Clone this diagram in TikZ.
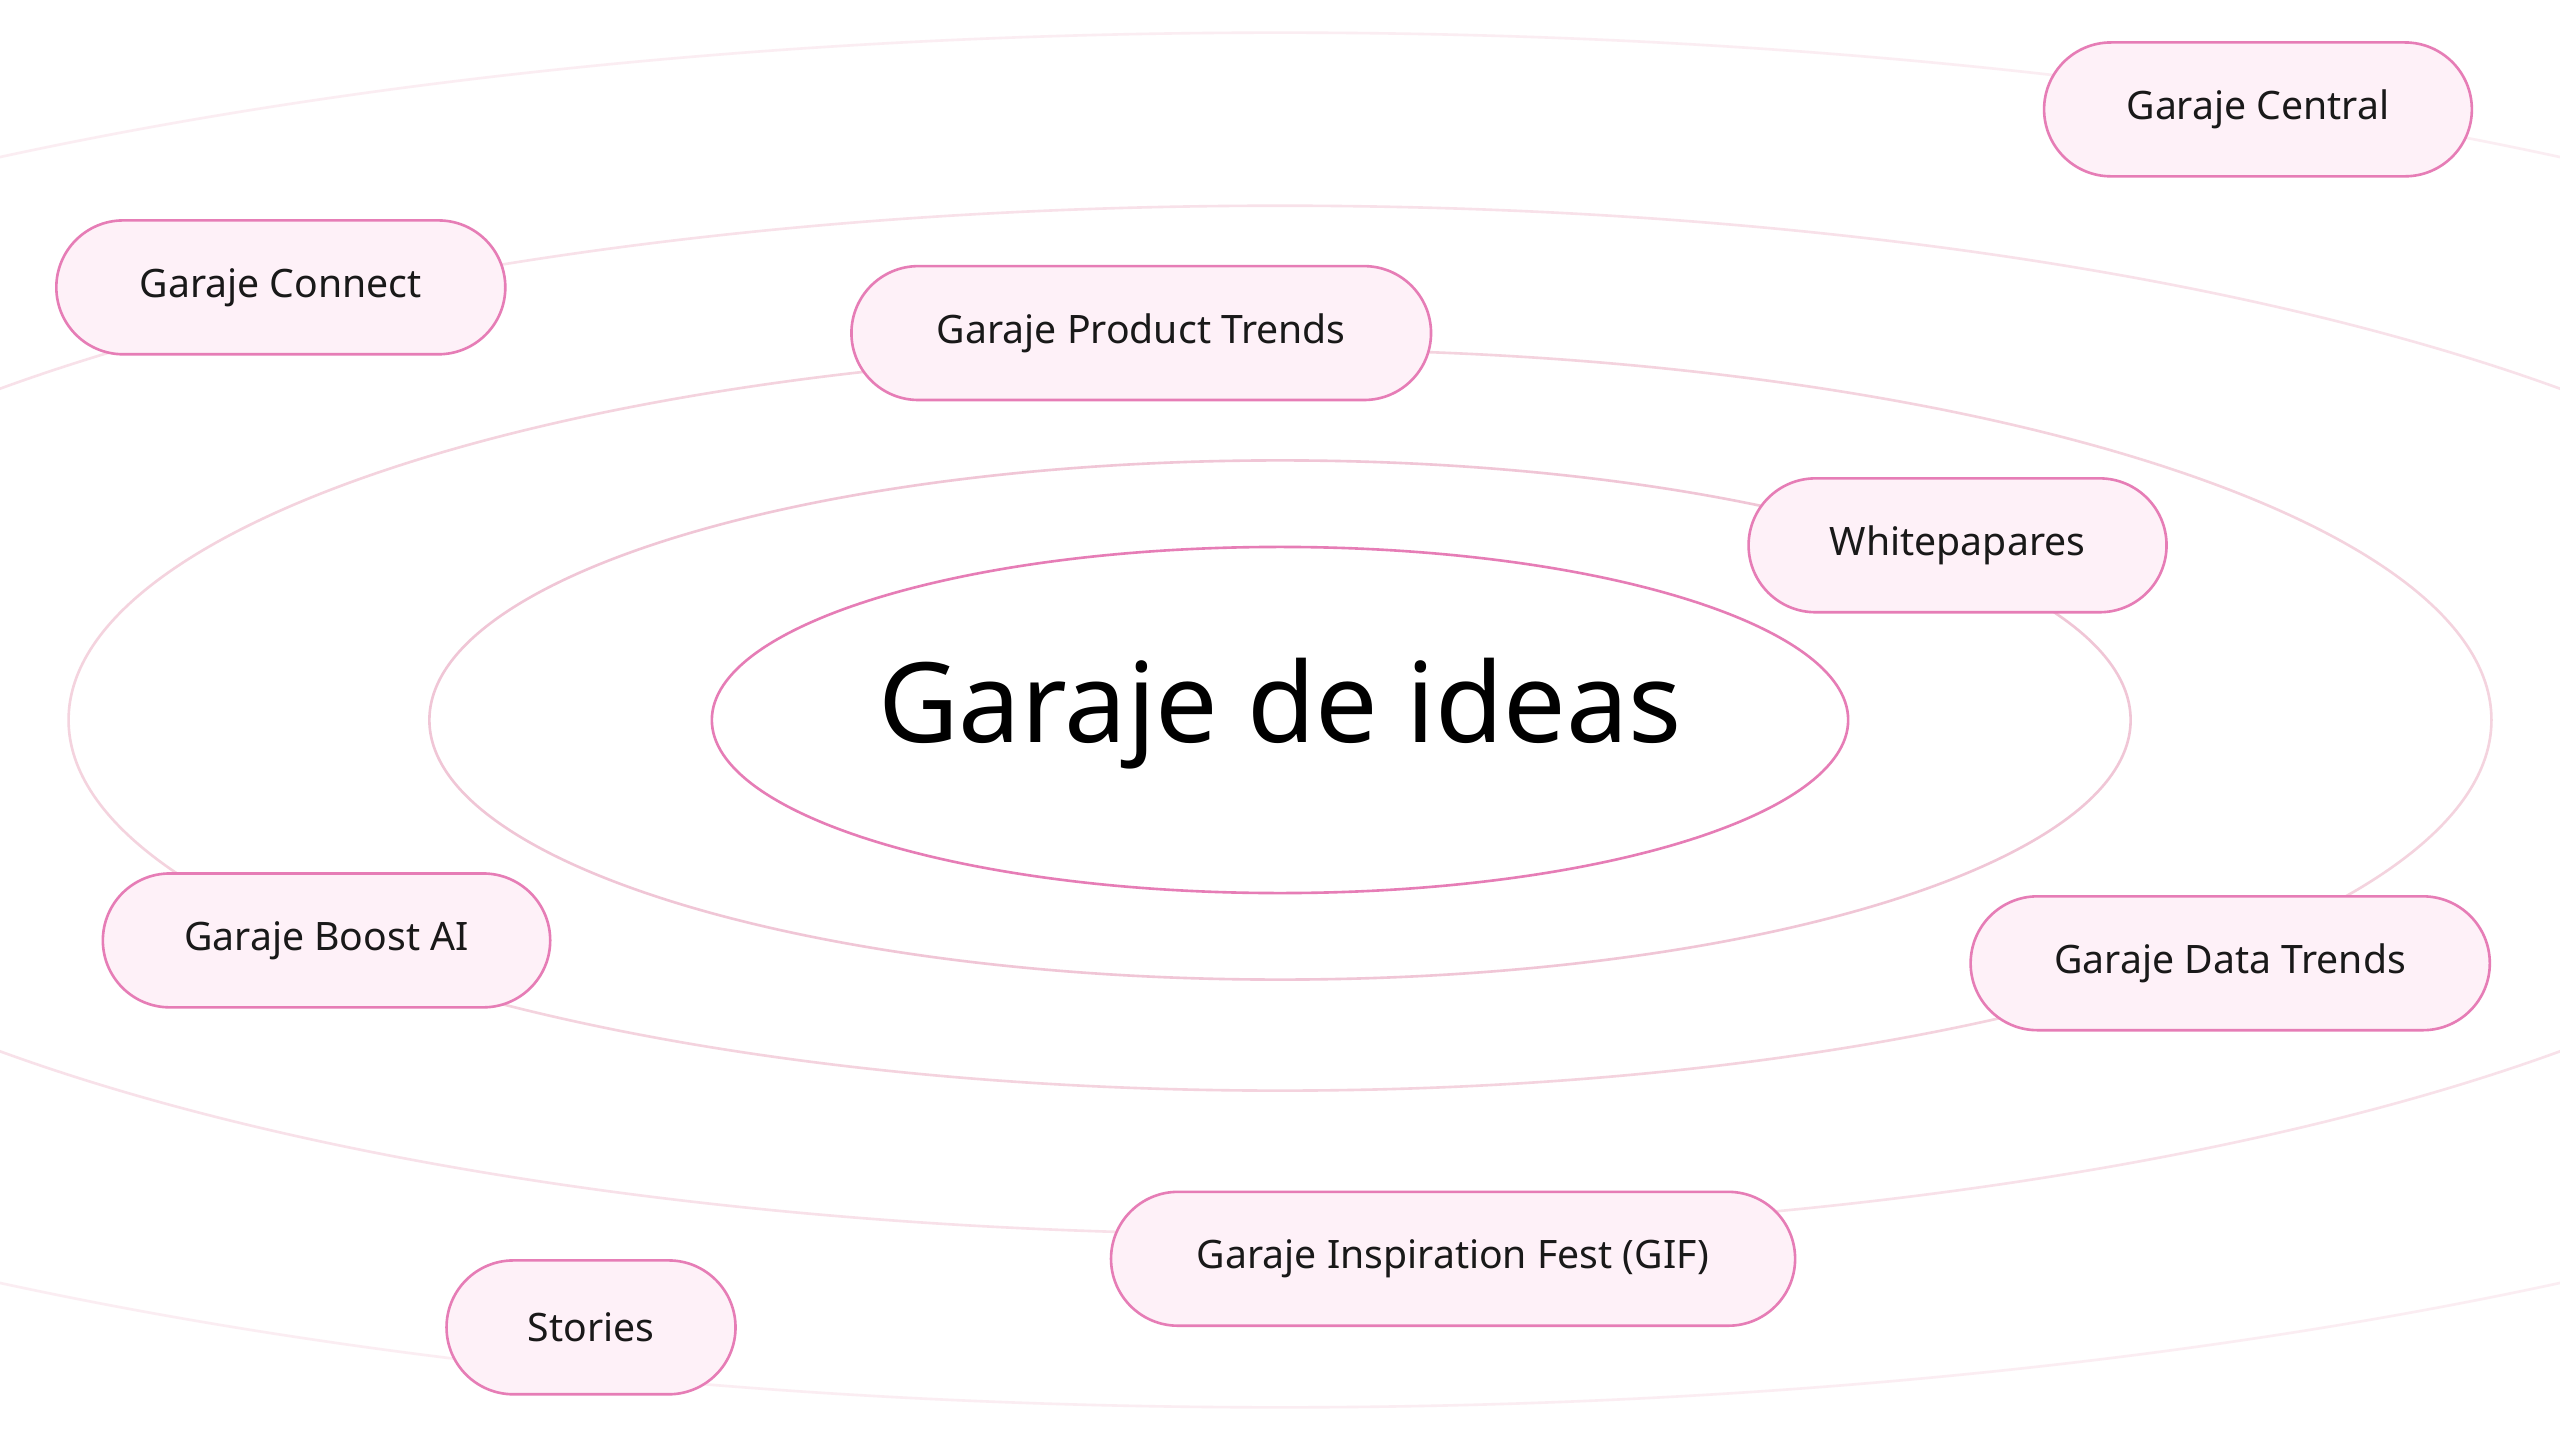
\documentclass[tikz,border=0pt]{standalone}
\usepackage{fontspec}
\setmainfont{Noto Sans}
\definecolor{pstroke}{HTML}{E67DB6}
\definecolor{pfill}{HTML}{FEF1F8}
\definecolor{ring1}{HTML}{E67DB6}
\definecolor{ring2}{HTML}{F0C6D6}
\definecolor{ring3}{HTML}{F4D3DE}
\definecolor{ring4}{HTML}{F8E1E9}
\definecolor{ring5}{HTML}{FBEDF2}
\tikzset{
  pill/.style={draw=pstroke,fill=pfill,line width=0.8pt,rounded corners=20.5pt,minimum height=41pt,inner sep=0pt,font=\fontsize{12}{14}\selectfont,text=black!90},
  ring/.style={line width=0.8pt}
}
\begin{document}
\begin{tikzpicture}[x=0.5pt,y=-0.5pt]
\useasboundingbox[fill=white] (0,0) rectangle (1568,882);
\begin{scope}
\clip (0,0) rectangle (1568,882);
\draw[ring,draw=ring5] (784,441) ellipse [x radius=1366,y radius=421];
\draw[ring,draw=ring4] (784,441) ellipse [x radius=1025,y radius=315];
\draw[ring,draw=ring3] (784,441) ellipse [x radius=742,y radius=227];
\draw[ring,draw=ring2] (784,441) ellipse [x radius=521,y radius=159];
\draw[ring,draw=ring1] (784,441) ellipse [x radius=348,y radius=106];
\end{scope}
\node (title) at (784,437) {\fontsize{34}{40}\selectfont\bfseries Garaje de ideas};
\node[pill,minimum width=131pt] (central) at (1383,67) {Garaje Central};
\node[pill,minimum width=137.5pt] (connect) at (172,176) {Garaje Connect};
\node[pill,minimum width=177.5pt] (product) at (699,204) {Garaje Product Trends};
\node[pill,minimum width=128pt] (white) at (1199,334) {Whitepapares};
\node[pill,minimum width=137pt] (boost) at (200,576) {Garaje Boost AI};
\node[pill,minimum width=159pt] (data) at (1366,590) {Garaje Data Trends};
\node[pill,minimum width=209.5pt] (gif) at (890,771) {Garaje Inspiration Fest (GIF)};
\node[pill,minimum width=88.5pt] (stories) at (362,813) {Stories};
\end{tikzpicture}
\end{document}
